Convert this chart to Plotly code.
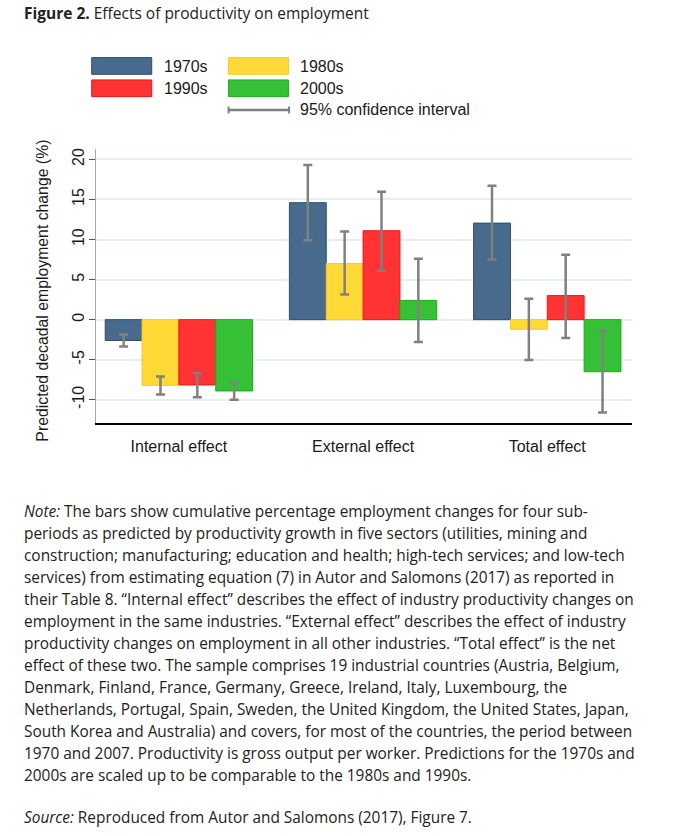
import plotly.graph_objects as go

# ---------------- data ----------------
categories = ["Internal effect", "External effect", "Total effect"]
series_names = ["1970s", "1980s", "1990s", "2000s"]

val_1970s = [-2.6, 14.6, 12.05]
val_1980s = [-8.2, 7.0, -1.2]
val_1990s = [-8.15, 11.1, 3.0]
val_2000s = [-8.9, 2.4, -6.5]

ci_hi_1970s = [-1.85, 19.3, 16.7]
ci_lo_1970s = [-3.35, 9.9, 7.5]
ci_hi_1980s = [-7.1, 11.0, 2.6]
ci_lo_1980s = [-9.35, 3.15, -5.05]
ci_hi_1990s = [-6.65, 15.95, 8.1]
ci_lo_1990s = [-9.7, 6.1, -2.3]
ci_hi_2000s = [-7.8, 7.6, -1.35]
ci_lo_2000s = [-10.0, -2.8, -11.6]

y_ticks = [-10, -5, 0, 5, 10, 15, 20]

title_bold = "Figure 2."
title_rest = "Effects of productivity on employment"
y_title = "Predicted decadal employment change (%)"
ci_label = "95% confidence interval"

note_lines = [
    "<i>Note:</i> The bars show cumulative percentage employment changes for four sub-",
    "periods as predicted by productivity growth in five sectors (utilities, mining and",
    "construction; manufacturing; education and health; high-tech services; and low-tech",
    "services) from estimating equation (7) in Autor and Salomons (2017) as reported in",
    "their Table 8. \u201cInternal effect\u201d describes the effect of industry productivity changes on",
    "employment in the same industries. \u201cExternal effect\u201d describes the effect of industry",
    "productivity changes on employment in all other industries. \u201cTotal effect\u201d is the net",
    "effect of these two. The sample comprises 19 industrial countries (Austria, Belgium,",
    "Denmark, Finland, France, Germany, Greece, Ireland, Italy, Luxembourg, the",
    "Netherlands, Portugal, Spain, Sweden, the United Kingdom, the United States, Japan,",
    "South Korea and Australia) and covers, for most of the countries, the period between",
    "1970 and 2007. Productivity is gross output per worker. Predictions for the 1970s and",
    "2000s are scaled up to be comparable to the 1980s and 1990s.",
]
source_line = "<i>Source:</i> Reproduced from Autor and Salomons (2017), Figure 7."

# ---------------- styles ----------------
fills = ["#486A8C", "#FFD936", "#FF3333", "#36C036"]
borders = ["#2E4F70", "#F5CC20", "#EE1515", "#1FA81F"]
err_color = "#808080"

OFF = 0  # page body margin removed via post_script
W, H = 676, 836
# target plot area in window pixels: x 96..631.7, y 149..422.7
L = 96 - OFF
T = 149 - OFF
R = W - (631.7 - OFF)
B = H - (422.7 - OFF)
PW, PH = W - L - R, H - T - B


def px_x(px):
    return (px - OFF - L) / PW


def px_y(py):
    return (H - B - (py - OFF)) / PH


vals = [val_1970s, val_1980s, val_1990s, val_2000s]
his = [ci_hi_1970s, ci_hi_1980s, ci_hi_1990s, ci_hi_2000s]
los = [ci_lo_1970s, ci_lo_1980s, ci_lo_1990s, ci_lo_2000s]

fig = go.Figure()
for name, v, hi, lo, fc, bc in zip(series_names, vals, his, los, fills, borders):
    fig.add_trace(go.Bar(
        name=name,
        x=list(range(len(categories))),
        y=v,
        marker=dict(color=fc, line=dict(color=bc, width=1)),
        error_y=dict(
            type="data", symmetric=False,
            array=[h - a for h, a in zip(hi, v)],
            arrayminus=[a - l for a, l in zip(v, lo)],
            color=err_color, thickness=2.5, width=4.5,
        ),
        showlegend=False,
    ))

fig.update_layout(
    width=W, height=H,
    margin=dict(l=L, r=R, t=T, b=B, pad=0),
    paper_bgcolor="white", plot_bgcolor="white",
    barmode="group", bargap=0.2, bargroupgap=0,
    font=dict(family="Liberation Sans, Arial, sans-serif", size=16, color="#1a1a1a"),
)
fig.update_xaxes(
    range=[-0.45, 2.46],
    tickmode="array", tickvals=list(range(len(categories))), ticktext=categories,
    ticks="", showgrid=False, zeroline=False,
    showline=True, linecolor="#000000", linewidth=1.5,
    ticklabelstandoff=8,
    tickfont=dict(size=16, color="#1a1a1a"),
)
fig.update_yaxes(
    range=[-12.9, 21.3],
    tickmode="array", tickvals=y_ticks, ticktext=[str(t) for t in y_ticks],
    tickangle=-90,
    ticks="outside", ticklen=6, tickwidth=1, tickcolor="#555555",
    ticklabelstandoff=-1,
    showgrid=True, gridcolor="#E7EEF0", gridwidth=1.5,
    zeroline=False,
    showline=True, linecolor="#A8A8A8", linewidth=1,
    tickfont=dict(size=16, color="#1a1a1a"),
)

ann = []
shapes = []

# title
ann.append(dict(
    text=f"<b>{title_bold}</b> {title_rest}",
    xref="paper", yref="paper", x=px_x(22), y=px_y(13),
    xanchor="left", yanchor="middle", showarrow=False,
    font=dict(family="Open Sans, sans-serif", size=15.5, color="#222222"),
))

# y-axis title
ann.append(dict(
    text=y_title, textangle=-90,
    xref="paper", yref="paper", x=px_x(43), y=px_y(290.5),
    xanchor="center", yanchor="middle", showarrow=False,
    font=dict(family="Liberation Sans, Arial, sans-serif", size=15.8, color="#1a1a1a"),
))

# legend (drawn as key shapes + text)
leg_pos = [(91.7, 57.7), (228.3, 57.7), (91.7, 80.0), (228.3, 80.0)]
for (lx, ly), name, fc, bc in zip(leg_pos, series_names, fills, borders):
    shapes.append(dict(
        type="rect", xref="paper", yref="paper",
        x0=px_x(lx), x1=px_x(lx + 60), y0=px_y(ly), y1=px_y(ly + 16.7),
        fillcolor=fc, line=dict(color=bc, width=1),
    ))
    ann.append(dict(
        text=name, xref="paper", yref="paper",
        x=px_x(lx + 70), y=px_y(ly + 8.5), xanchor="left", yanchor="middle",
        showarrow=False, font=dict(size=16, color="#1a1a1a"),
    ))
# CI key
ci_y = 110
shapes.append(dict(type="line", xref="paper", yref="paper",
                   x0=px_x(228.5), x1=px_x(289), y0=px_y(ci_y), y1=px_y(ci_y),
                   line=dict(color=err_color, width=2.5)))
for cx in (228.5, 289):
    shapes.append(dict(type="line", xref="paper", yref="paper",
                       x0=px_x(cx), x1=px_x(cx), y0=px_y(ci_y - 3.5), y1=px_y(ci_y + 3.5),
                       line=dict(color=err_color, width=2)))
ann.append(dict(
    text=ci_label, xref="paper", yref="paper",
    x=px_x(298), y=px_y(ci_y), xanchor="left", yanchor="middle",
    showarrow=False, font=dict(size=16, color="#1a1a1a"),
))

# note lines
note_font = dict(family="Open Sans, sans-serif", size=15.4, color="#222222")
for i, line in enumerate(note_lines):
    ann.append(dict(
        text=line, xref="paper", yref="paper",
        x=px_x(22), y=px_y(511 + 22 * i), xanchor="left", yanchor="middle",
        showarrow=False, font=note_font,
    ))
ann.append(dict(
    text=source_line, xref="paper", yref="paper",
    x=px_x(22), y=px_y(817), xanchor="left", yanchor="middle",
    showarrow=False, font=note_font,
))

fig.update_layout(annotations=ann, shapes=shapes)
fig.write_html("out.html", config={"displayModeBar": False},
               post_script="document.body.style.margin='0';")
